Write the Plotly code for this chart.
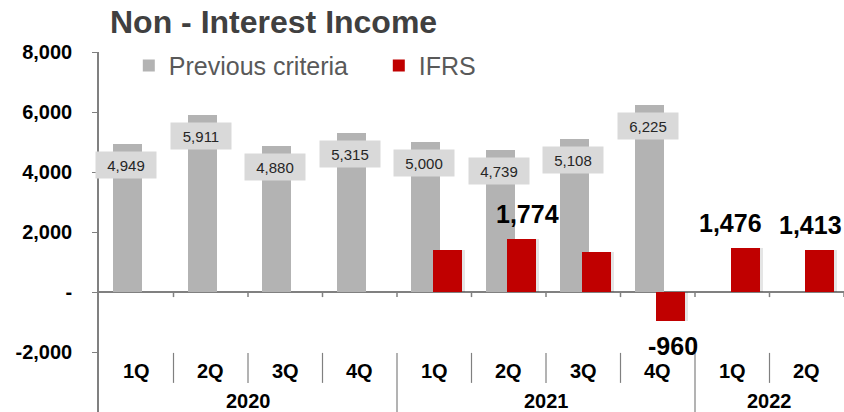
import plotly.graph_objects as go

quarters = ["1Q", "2Q", "3Q", "4Q", "1Q", "2Q", "3Q", "4Q", "1Q", "2Q"]
years = ["2020", "2020", "2020", "2020", "2021", "2021", "2021", "2021", "2022", "2022"]
categories = [f"{y} {q}" for y, q in zip(years, quarters)]

previous_criteria = [4949, 5911, 4880, 5315, 5000, 4739, 5108, 6225, None, None]
ifrs = [None, None, None, None, 1400, 1774, 1330, -960, 1476, 1413]
ifrs_labels = [None, None, None, None, None, "1,774", None, "-960", "1,476", "1,413"]

y_tickvals = [-2000, 0, 2000, 4000, 6000, 8000]
y_ticktext = ["-2,000", "-", "2,000", "4,000", "6,000", "8,000"]

GREY = "#b3b3b3"
RED = "#c00000"
FONT = "Liberation Sans, Arial, sans-serif"

fig = go.Figure()

# soft shadow for red bars
fig.add_trace(go.Bar(
    x=categories, y=ifrs, width=0.40, offset=0.01,
    marker=dict(color="rgba(0,0,0,0.10)", line=dict(width=0)),
    showlegend=False, hoverinfo="skip"))

fig.add_trace(go.Bar(
    name="Previous criteria", x=categories, y=previous_criteria,
    width=0.39, offset=-0.31,
    marker=dict(color=GREY, line=dict(width=0))))

fig.add_trace(go.Bar(
    name="IFRS", x=categories, y=ifrs,
    width=0.39, offset=-0.02,
    marker=dict(color=RED, line=dict(width=0))))

annotations = []
for c, v in zip(categories, previous_criteria):
    if v is None:
        continue
    annotations.append(dict(
        x=c, y=v, xref="x", yref="y", text=f"{v:,}", showarrow=False,
        xshift=-10, yshift=-21, yanchor="middle",
        bgcolor="#d9d9d9", width=58, height=24,
        font=dict(family=FONT, size=15, color="#262626")))

label_xshift = {"1,774": 19, "-960": 15, "1,476": -2, "1,413": 4}
for c, v, t in zip(categories, ifrs, ifrs_labels):
    if t is None:
        continue
    if v >= 0:
        annotations.append(dict(x=c, y=v, xref="x", yref="y", text=f"<b>{t}</b>",
                                showarrow=False, yanchor="bottom", yshift=9,
                                xshift=label_xshift[t],
                                font=dict(family=FONT, size=25, color="#000000")))
    else:
        annotations.append(dict(x=c, y=v, xref="x", yref="y", text=f"<b>{t}</b>",
                                showarrow=False, yanchor="top", yshift=-9,
                                xshift=label_xshift[t],
                                font=dict(family=FONT, size=25, color="#000000")))

# category axis labels
for c, q in zip(categories, quarters):
    annotations.append(dict(x=c, y=-2640, xref="x", yref="y", text=f"<b>{q}</b>",
                            showarrow=False, yanchor="middle",
                            font=dict(family=FONT, size=20, color="#000000")))
year_groups = {}
for i, y in enumerate(years):
    year_groups.setdefault(y, []).append(i)
for y, idx in year_groups.items():
    annotations.append(dict(x=sum(idx) / len(idx), y=-3640, xref="x", yref="y",
                            text=f"<b>{y}</b>", showarrow=False, yanchor="middle",
                            font=dict(family=FONT, size=20, color="#000000")))

shapes = []
n = len(categories)
for i in range(n):
    b = i + 0.5
    # tick marks on the zero line
    shapes.append(dict(type="line", xref="x", yref="y", x0=b, x1=b, y0=0, y1=-170,
                       line=dict(color="#808080", width=1.5)))
    if i < n - 1:
        is_year = years[i] != years[i + 1]
        shapes.append(dict(type="line", xref="x", yref="y", x0=b, x1=b,
                           y0=-2030, y1=-4000 if is_year else -3030,
                           line=dict(color="#808080", width=1.2)))

fig.update_layout(
    width=844, height=412,
    margin=dict(l=99, r=0, t=52, b=0),
    paper_bgcolor="white", plot_bgcolor="white",
    barmode="overlay",
    font=dict(family=FONT),
    title=dict(text="<b>Non - Interest Income</b>", x=110 / 844, xanchor="left",
               y=1 - 22 / 412, yanchor="middle",
               font=dict(family=FONT, size=32, color="#404040")),
    legend=dict(orientation="h", x=0.040, xanchor="left", y=0.962, yanchor="middle",
                font=dict(family=FONT, size=25, color="#595959"),
                bgcolor="rgba(0,0,0,0)", itemwidth=30, traceorder="normal",
                entrywidth=205, entrywidthmode="pixels"),
    xaxis=dict(range=[-0.5, n - 0.5], showticklabels=False, showline=False,
               showgrid=False, zeroline=False, ticks=""),
    yaxis=dict(range=[-4000, 8000], tickvals=y_tickvals,
               ticktext=[f"<b>{t}</b>" for t in y_ticktext],
               showgrid=False, zeroline=True, zerolinecolor="#808080", zerolinewidth=1.5,
               showline=True, linecolor="#808080", linewidth=1.5,
               ticks="outside", ticklen=5, tickcolor="#808080",
               ticklabelstandoff=16,
               tickfont=dict(family=FONT, size=20, color="#000000")),
    annotations=annotations, shapes=shapes,
    bargap=0,
)

fig.write_html("out.html", config={"displayModeBar": False},
               post_script="document.body.style.margin='0';document.body.style.padding='0';")
